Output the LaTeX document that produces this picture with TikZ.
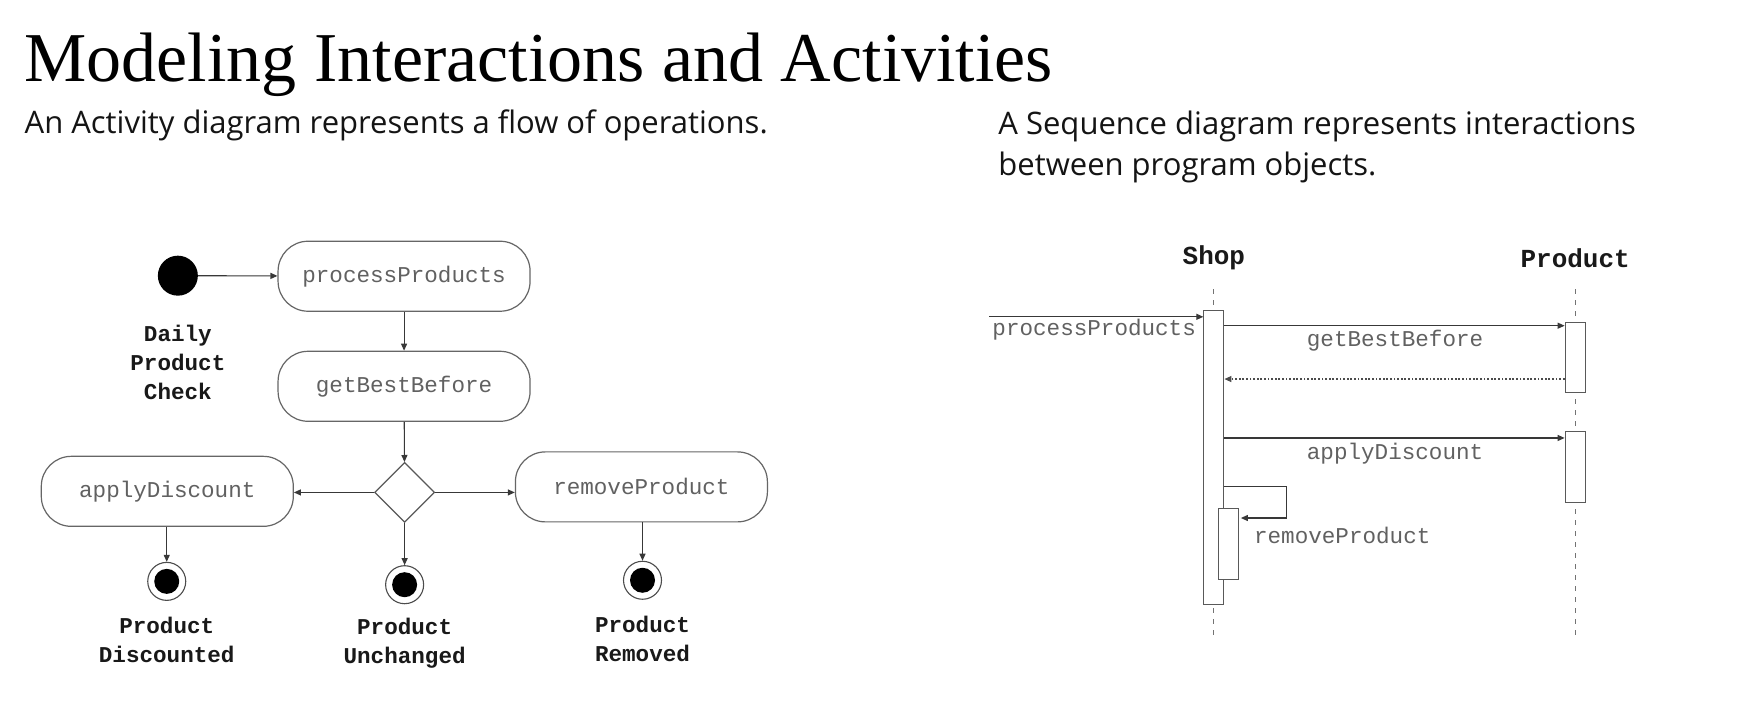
\documentclass[tikz,border=0pt]{standalone}
\usepackage{fontspec}
\setmainfont{Liberation Serif}
\setmonofont{Liberation Mono}
\newfontfamily\bodyfont{Open Sans}
\usetikzlibrary{shapes.geometric,arrows.meta,calc}

\begin{document}
\begin{tikzpicture}[x=1.1116pt,y=-1.1116pt,
  font=\ttfamily\fontsize{22.6}{29}\selectfont,
  tip/.tip={Triangle[length=7pt,width=6pt]},
  flow/.style={draw=black!78,line width=1.1pt,-tip},
  activity/.style={draw=black!60,line width=1.2pt,rounded corners=30pt,
    minimum width=252pt,minimum height=70pt,text=black!62,inner sep=0pt},
  decision/.style={diamond,draw=black!65,line width=1.2pt,minimum width=60pt,
    minimum height=60pt,inner sep=0pt},
  initial/.style={circle,fill=black,minimum size=40pt,inner sep=0pt},
  final/.style={circle,draw=black!70,line width=1.1pt,minimum size=38pt,inner sep=0pt,
    path picture={\fill[black] (path picture bounding box.center) circle (12.5pt);}},
  caption/.style={font=\ttfamily\bfseries\fontsize{22.6}{29}\selectfont,align=center,text=black!90},
  header/.style={font=\ttfamily\bfseries\fontsize{26}{30}\selectfont,text=black!90},
  intro/.style={anchor=base west,inner sep=0pt,font=\bodyfont\fontsize{31}{36}\selectfont,text=black!92},
  lifeline/.style={draw=black!55,line width=1.1pt,dash pattern=on 5pt off 6pt},
  activation/.style={draw=black!65,fill=white,line width=1.1pt,minimum width=20pt,inner sep=0pt},
  msglabel/.style={text=black!62,inner sep=0pt},
  msg/.style={flow},
  reply/.style={draw=black!70,line width=1.2pt,dash pattern=on 1.8pt off 1.8pt,-tip}
]
\useasboundingbox[fill=white] (0,0) rectangle (1568,634);

% headings
\node[anchor=base west,inner sep=0pt,font=\rmfamily\fontsize{70}{74}\selectfont] (title) at (22,73)
  {Modeling Interactions and Activities};
\node[intro] (actintro) at (22,120) {An Activity diagram represents a flow of operations.};
\node[intro] (seqintro1) at (898,121) {A Sequence diagram represents interactions};
\node[intro] (seqintro2) at (898,158) {between program objects.};

% ---------- activity diagram ----------
\node[initial] (start) at (160,248) {};
\node[caption] (startlbl) at (160,326) {Daily\\Product\\Check};
\node[activity] (process) at (363.5,248.5) {processProducts};
\node[activity] (best) at (363.5,347.5) {getBestBefore};
\node[decision] (choice) at (364,443) {};
\node[activity] (discount) at (150.5,442) {applyDiscount};
\node[activity] (remove) at (577,438) {removeProduct};
\node[final] (endd) at (150,523) {};
\node[final] (endu) at (364,526) {};
\node[final] (endr) at (578,522) {};
\node[caption] (enddlbl) at (150,576) {Product\\Discounted};
\node[caption] (endulbl) at (364,579) {Product\\Unchanged};
\node[caption] (endrlbl) at (578,575) {Product\\Removed};

\draw[flow] (start) -- (process);
\draw[flow] (process) -- (best);
\draw[flow] (best) -- (choice);
\draw[flow] (choice.west) -- (choice.west -| discount.east);
\draw[flow] (choice.east) -- (choice.east -| remove.west);
\draw[flow] (discount.south -| endd) -- (endd);
\draw[flow] (choice) -- (endu);
\draw[flow] (remove.south -| endr) -- (endr);

% ---------- sequence diagram ----------
\node[header] (shop) at (1092,232) {Shop};
\node[header] (product) at (1417,232) {Product};
\coordinate (shoptop) at (1092,260);
\coordinate (shopbot) at (1092,572);
\coordinate (prodtop) at (1417,260);
\coordinate (prodbot) at (1417,572);
\draw[lifeline] (shoptop) -- (shopbot);
\draw[lifeline] (prodtop) -- (prodbot);

\node[activation,minimum height=294.6pt] (shopact) at (1092,411.5) {};
\node[activation,minimum height=70pt] (prodact1) at (1417,321.5) {};
\node[activation,minimum height=71pt] (prodact2) at (1417,420) {};
\node[activation,minimum height=71pt] (shopnest) at (1105,489) {};

\coordinate (caller) at (890,285);
\draw[msg] (caller) -- (caller -| shopact.west);
\node[msglabel,anchor=east] (lblproc) at (1076,297) {processProducts};

\draw[msg] (shopact.east |- 0,293) -- (prodact1.west |- 0,293);
\node[msglabel] (lblbest) at (1255,306) {getBestBefore};
\draw[reply] (prodact1.west |- 0,341) -- (shopact.east |- 0,341);

\draw[msg] (shopact.east |- 0,394) -- (prodact2.west |- 0,394);
\node[msglabel] (lbldisc) at (1255,408) {applyDiscount};

\coordinate (loopa) at (1157,438);
\coordinate (loopb) at (1157,466);
\draw[msg] (shopact.east |- loopa) -- (loopa) -- (loopb) -- ([xshift=2pt]shopnest.east |- loopb);
\node[msglabel,anchor=west] (lblrem) at (1128,482) {removeProduct};
\end{tikzpicture}
\end{document}
